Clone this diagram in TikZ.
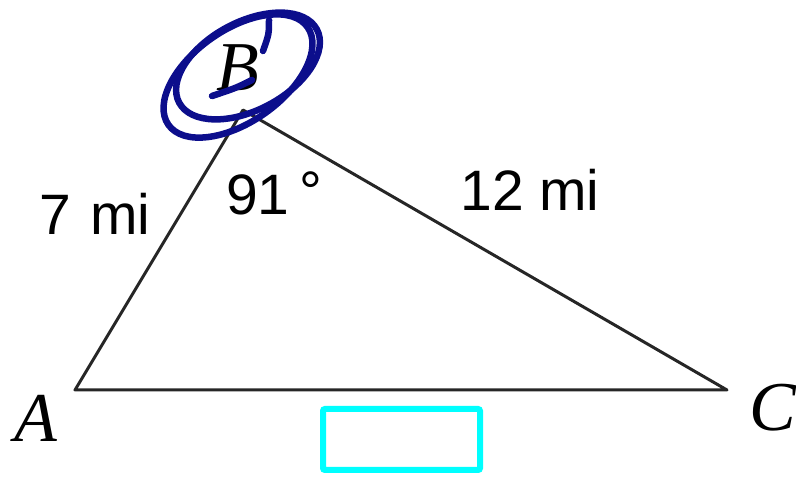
\documentclass[tikz,border=0pt]{standalone}
\usepackage{fontspec}
\setmainfont{Liberation Serif}
\newfontfamily\arialfont{Liberation Sans}
\definecolor{penblue}{RGB}{12,14,140}
\definecolor{boxcyan}{RGB}{0,255,255}
\tikzset{
  side/.style={line width=3pt, draw=black!85, line cap=round, line join=round},
  vlabel/.style={font=\fontsize{70}{70}\selectfont\itshape, inner sep=0pt},
  mlabel/.style={font=\arialfont\fontsize{57}{57}\selectfont, inner sep=0pt},
  scribble/.style={draw=penblue, line width=6.5pt, line cap=round},
  answerbox/.style={draw=boxcyan, line width=6pt, rounded corners=2pt, minimum width=157pt, minimum height=61pt, inner sep=0pt}
}
\begin{document}
\begin{tikzpicture}[x=1pt,y=-1pt]
\useasboundingbox (0,0) rectangle (796,478);
% vertices
\coordinate (A) at (75,390);
\coordinate (B) at (243,110);
\coordinate (C) at (727,390);
\draw[side] (A) -- (B) -- (C) -- cycle;
% vertex labels
\node[vlabel] (lA) at (36,418) {A};
\node[vlabel] (lB) at (238,68) {B};
\node[vlabel] (lC) at (773,408) {C};
% measurement labels
\node[mlabel] (s1) at (95,214) {7\hspace{0.05em} mi};
\node[mlabel] (ang) at (274,193) {91\,\raisebox{0.05em}{°}};
\node[mlabel] (s2) at (530,190) {12 mi};
% answer box
\node[answerbox] (box) at (401.5,439.5) {};
% pen scribble round B
\draw[scribble] (238,76) ellipse [x radius=85, y radius=46, rotate=35];
\draw[scribble] (248,66) ellipse [x radius=78, y radius=44, rotate=28];
\draw[scribble] (269,20) .. controls (269,34) .. (263,51);
\draw[scribble] (252,80) .. controls (236,88) .. (212,96);
\end{tikzpicture}
\end{document}
